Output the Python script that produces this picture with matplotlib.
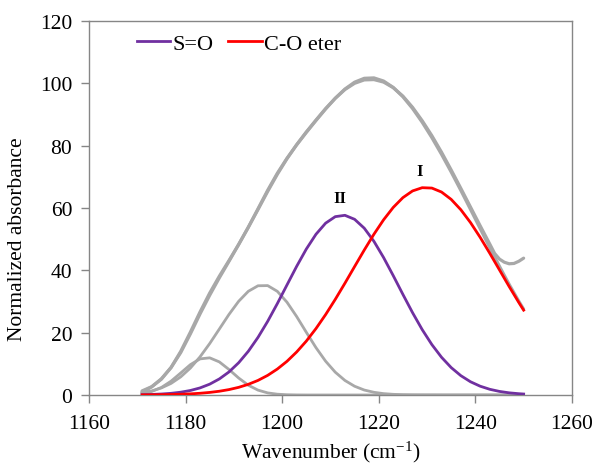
import matplotlib
matplotlib.use("Agg")
import matplotlib.pyplot as plt

plt.rcParams['font.family'] = ['Liberation Serif', 'DejaVu Serif']
plt.rcParams['mathtext.fontset'] = 'custom'
plt.rcParams['mathtext.rm'] = 'Liberation Serif'
plt.rcParams['mathtext.it'] = 'Liberation Serif:italic'

# ---- data ----
wavenumber = [1171, 1173, 1175, 1177, 1179, 1181, 1183, 1185, 1187, 1189,
              1191, 1193, 1195, 1197, 1199, 1201, 1203, 1205, 1207, 1209,
              1211, 1213, 1215, 1217, 1219, 1221, 1223, 1225, 1227, 1229,
              1231, 1233, 1235, 1237, 1239, 1241, 1243, 1245, 1247, 1249, 1250]

peak_1184 = [0.46, 1.13, 2.41, 4.43, 7.06, 9.73, 11.58, 11.92, 10.61, 8.17,
             5.44, 3.13, 1.56, 0.67, 0.25, 0.08, 0.02, 0, 0, 0,
             0, 0, 0, 0, 0, 0, 0, 0, 0, 0,
             0, 0, 0, 0, 0, 0, 0, 0, 0, 0, 0]

peak_1196 = [0.72, 1.31, 2.26, 3.71, 5.81, 8.64, 12.24, 16.50, 21.17, 25.86,
             30.07, 33.27, 35.04, 35.10, 33.26, 29.77, 25.18, 20.13, 15.20, 10.84,
             7.31, 4.66, 2.80, 1.59, 0.86, 0.43, 0.21, 0.09, 0.04, 0.02,
             0.01, 0, 0, 0, 0, 0, 0, 0, 0, 0, 0]

so_band = [0.10, 0.17, 0.31, 0.53, 0.89, 1.44, 2.27, 3.47, 5.15, 7.40,
           10.35, 14.03, 18.48, 23.62, 29.31, 35.30, 41.26, 46.81, 51.56, 55.13,
           57.22, 57.65, 56.37, 53.52, 49.31, 44.11, 38.30, 32.28, 26.41, 20.97,
           16.17, 12.10, 8.79, 6.20, 4.24, 2.82, 1.82, 1.14, 0.69, 0.41, 0.31]

co_eter = [0.03, 0.06, 0.09, 0.15, 0.23, 0.36, 0.55, 0.82, 1.20, 1.73,
           2.45, 3.42, 4.67, 6.29, 8.32, 10.80, 13.79, 17.28, 21.30, 25.79,
           30.68, 35.86, 41.20, 46.50, 51.57, 56.20, 60.18, 63.32, 65.47, 66.51,
           66.39, 65.12, 62.76, 59.44, 55.32, 50.58, 45.45, 40.13, 34.81, 29.68, 27.22]

fit_sum = [1.31, 2.67, 5.07, 8.82, 13.99, 20.17, 26.64, 32.71, 38.13, 43.16,
           48.31, 53.85, 59.75, 65.68, 71.14, 75.95, 80.25, 84.22, 88.06, 91.76,
           95.21, 98.17, 100.37, 101.61, 101.74, 100.74, 98.69, 95.69, 91.92, 87.50,
           82.57, 77.22, 71.55, 65.64, 59.56, 53.40, 47.27, 41.27, 35.50, 30.09, 27.53]

exp_wavenumber = [1171, 1173, 1175, 1177, 1179, 1181, 1183, 1185, 1187, 1189,
                  1191, 1193, 1195, 1197, 1199, 1201, 1203, 1205, 1207, 1209,
                  1211, 1213, 1215, 1217, 1219, 1221, 1223, 1225, 1227, 1229,
                  1231, 1233, 1235, 1237, 1239, 1241, 1243, 1244, 1245, 1246,
                  1247, 1248, 1249, 1250]
exp_absorbance = [0.9, 2.6, 5.2, 8.8, 13.6, 19.6, 26.0, 32.0, 37.6, 42.9,
                  48.3, 53.8, 59.5, 65.3, 70.8, 75.8, 80.3, 84.4, 88.2, 91.9,
                  95.2, 98.0, 100.0, 101.1, 101.2, 100.4, 98.6, 95.9, 92.3, 88.0,
                  83.2, 77.9, 72.2, 66.3, 60.3, 54.3, 48.4, 45.4, 43.6, 42.6,
                  42.1, 42.2, 42.9, 43.9]

band_labels = ['II', 'I']
band_label_x = [1212.0, 1228.4]
band_label_y = [63.3, 72.0]

xticks = [1160, 1180, 1200, 1220, 1240, 1260]
yticks = [0, 20, 40, 60, 80, 100, 120]

# ---- styling ----
gray = '#A8A8A8'
purple = '#7030A0'
red = '#FF0000'
spine_color = '#868686'

fig = plt.figure(figsize=(5.97, 4.64), dpi=100)
ax = fig.add_axes([0.149, 0.1466, 0.809, 0.806])

ax.plot(exp_wavenumber, exp_absorbance, color=gray, lw=2.3, solid_capstyle='round', zorder=2)
ax.plot(wavenumber, fit_sum, color=gray, lw=2.3, solid_capstyle='round', zorder=2)
ax.plot(wavenumber, peak_1184, color=gray, lw=2.0, zorder=2)
ax.plot(wavenumber, peak_1196, color=gray, lw=2.0, zorder=2)
ax.plot(wavenumber, so_band, color=purple, lw=2.0, label='S=O', zorder=3)
ax.plot(wavenumber, co_eter, color=red, lw=2.0, label='C-O eter', zorder=3)

for t, x, y in zip(band_labels, band_label_x, band_label_y):
    ax.text(x, y, t, ha='center', va='center', fontsize=12, fontweight='bold')

ax.set_xlim(1160, 1260)
ax.set_ylim(0, 120)
ax.set_xticks(xticks)
ax.set_yticks(yticks)
ax.tick_params(axis='both', direction='out', length=6, width=1.0,
               colors=spine_color, labelcolor='black', labelsize=15.5)
ax.tick_params(axis='x', pad=8)
ax.tick_params(axis='y', pad=6)
for s in ax.spines.values():
    s.set_color(spine_color)
    s.set_linewidth(1.0)

ax.set_xlabel('Wavenumber (cm$^{-1}$)', fontsize=15.5, labelpad=4)
ax.set_ylabel('Normalized absorbance', fontsize=15.5)
ax.yaxis.set_label_coords(-0.128, 0.42)

ax.legend(loc='upper left', bbox_to_anchor=(0.081, 0.99), ncol=2, frameon=False,
          fontsize=16, handlelength=1.49, handletextpad=0.1, columnspacing=0.68,
          borderaxespad=0.0)

fig.savefig('out.png', dpi=100)
